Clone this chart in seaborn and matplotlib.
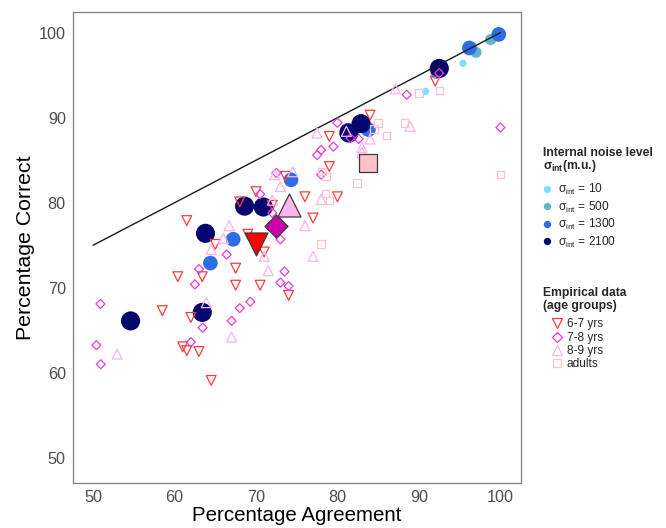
import numpy as np
import pandas as pd
import matplotlib
matplotlib.use('Agg')
import matplotlib.pyplot as plt
import seaborn as sns
from matplotlib.lines import Line2D

# model simulations, one list pair per internal noise level
noise_levels = ['10', '500', '1300', '2100']
noise_colors = ['#7FDFFF', '#62B5C9', '#2C6EE6', '#05056F']
noise_sizes = [28, 65, 112, 190]

sig10_agree = [90.8, 95.4]
sig10_correct = [93.1, 96.4]
sig500_agree = [92.1, 97.0, 98.8]
sig500_correct = [95.2, 97.7, 99.2]
sig1300_agree = [64.4, 67.2, 74.3, 81.2, 83.8, 96.2, 99.8]
sig1300_correct = [72.9, 75.7, 82.7, 88.5, 88.6, 98.2, 99.8]
sig2100_agree = [54.6, 63.4, 63.8, 68.6, 70.9, 81.4, 82.9, 92.5]
sig2100_correct = [66.1, 67.1, 76.4, 79.6, 79.5, 88.2, 89.3, 95.8]

# empirical data per age group
age_groups = ['6-7 yrs', '7-8 yrs', '8-9 yrs', 'adults']
age_colors = ['#FF3B3B', '#EE3ADB', '#FFB0EF', '#FFC2CA']
age_fill = ['#FF0000', '#CC00AA', '#FFB6EE', '#FFC0C8']
age_markers = ['v', 'D', '^', 's']
age_sizes = [50, 21, 52, 29]
mean_sizes = [275, 137, 275, 150]

kids67_agree = [58.5, 60.4, 61.0, 61.5, 61.5, 62.0, 63.0, 63.4, 64.5, 65.0, 67.5, 67.5,
                68.0, 69.0, 70.0, 70.5, 71.0, 72.0, 73.6, 74.0, 76.0, 77.0, 79.0, 79.0,
                80.0, 84.0, 92.0]
kids67_correct = [67.3, 71.3, 63.05, 62.6, 77.9, 66.5, 62.5, 71.3, 59.1, 75.1, 72.3, 70.3,
                  80.1, 76.3, 81.3, 70.3, 74.2, 79.7, 83.1, 69.1, 80.7, 78.2, 84.25, 87.8,
                  80.7, 90.3, 94.3]
kids78_agree = [50.4, 50.9, 50.95, 62.0, 62.5, 63.0, 63.45, 66.4, 67.0, 68.0, 69.3, 70.5,
                72.0, 72.5, 73.0, 73.0, 73.5, 74.0, 77.5, 78.0, 78.0, 79.5, 80.0, 81.6,
                82.6, 88.5, 92.5, 100.0]
kids78_correct = [63.25, 68.1, 61.0, 63.6, 70.4, 72.2, 65.3, 73.9, 66.1, 67.6, 68.35, 81.0,
                  78.8, 83.5, 75.7, 70.6, 71.9, 70.2, 85.6, 83.3, 86.2, 86.6, 89.4, 87.6,
                  87.5, 92.7, 95.25, 88.85]
kids89_agree = [52.95, 63.9, 64.5, 66.0, 66.7, 67.0, 71.0, 71.5, 72.0, 72.3, 73.0, 74.5,
                76.0, 77.0, 77.5, 78.0, 81.1, 83.0, 83.0, 84.0, 87.1, 88.9]
kids89_correct = [62.2, 68.25, 74.5, 75.8, 77.3, 64.2, 73.7, 72.0, 80.3, 83.3, 81.9, 83.65,
                  77.3, 73.7, 88.2, 80.4, 88.4, 86.5, 85.9, 87.5, 93.4, 89.0]
adults_agree = [78.0, 78.1, 78.6, 78.5, 79.0, 82.4, 84.5, 85.0, 86.0, 88.2, 90.0, 92.5, 100.0]
adults_correct = [75.15, 83.7, 83.1, 81.1, 80.25, 82.3, 88.65, 89.4, 87.9, 89.4, 92.9, 93.2, 83.3]

# group means
mean_agree = [70.0, 72.5, 74.0, 83.8]
mean_correct = [75.1, 77.3, 79.7, 84.7]

# reference line
line_x = [50, 100]
line_y = [75, 100]

model = pd.concat([
    pd.DataFrame({'agree': a, 'correct': c, 'sigma': lv})
    for a, c, lv in zip([sig10_agree, sig500_agree, sig1300_agree, sig2100_agree],
                        [sig10_correct, sig500_correct, sig1300_correct, sig2100_correct],
                        noise_levels)
], ignore_index=True)

emp = pd.concat([
    pd.DataFrame({'agree': a, 'correct': c, 'group': g})
    for a, c, g in zip([kids67_agree, kids78_agree, kids89_agree, adults_agree],
                       [kids67_correct, kids78_correct, kids89_correct, adults_correct],
                       age_groups)
], ignore_index=True)

means = pd.DataFrame({'agree': mean_agree, 'correct': mean_correct, 'group': age_groups})

sns.set_style('white')
plt.rcParams['font.family'] = ['Liberation Sans', 'DejaVu Sans']
plt.rcParams['mathtext.fontset'] = 'custom'
plt.rcParams['mathtext.rm'] = 'Liberation Sans'
plt.rcParams['mathtext.bf'] = 'Liberation Sans:bold'

fig = plt.figure(figsize=(6.66, 5.28), dpi=100)
ax = fig.add_axes([0.1092, 0.0847, 0.6727, 0.8920])

sns.scatterplot(data=model, x='agree', y='correct', hue='sigma', size='sigma',
                hue_order=noise_levels, size_order=noise_levels,
                palette=dict(zip(noise_levels, noise_colors)),
                sizes=dict(zip(noise_levels, noise_sizes)),
                linewidth=0, legend=False, ax=ax, zorder=2)

ax.plot(line_x, line_y, color='#1a1a1a', lw=1.0, zorder=3)

for g, col, mk, sz in zip(age_groups, age_colors, age_markers, age_sizes):
    sub = emp[emp['group'] == g]
    sns.scatterplot(data=sub, x='agree', y='correct', marker=mk, s=sz,
                    facecolor='none', edgecolor=col, linewidth=0.9,
                    legend=False, ax=ax, zorder=4)

for i, g in enumerate(age_groups):
    sub = means[means['group'] == g]
    sns.scatterplot(data=sub, x='agree', y='correct', marker=age_markers[i],
                    s=mean_sizes[i], color=age_fill[i], edgecolor='#3a3a3a',
                    linewidth=0.9, legend=False, ax=ax, zorder=5)

ax.set_xlim(47.5, 102.5)
ax.set_ylim(47.0, 102.4)
ax.set_xticks([50, 60, 70, 80, 90, 100])
ax.set_yticks([50, 60, 70, 80, 90, 100])
for sp in ax.spines.values():
    sp.set_visible(True)
    sp.set_color('#808080')
    sp.set_linewidth(0.9)
ax.tick_params(direction='out', length=3, width=0.9, color='#808080',
               labelcolor='#4D4D4D', labelsize=11.7, pad=2)
ax.set_xlabel('Percentage Agreement', fontsize=14.8, color='black')
ax.set_ylabel('Percentage Correct', fontsize=15.3, color='black')
ax.xaxis.set_label_coords(0.5, -0.048)
ax.yaxis.set_label_coords(-0.084, 0.5)

# legend for model noise levels
fig.text(542.7 / 666, 1 - 156 / 528, 'Internal noise level', fontsize=8.75,
         fontweight='bold', va='baseline', ha='left')
fig.text(542.7 / 666, 1 - 168.8 / 528, 'σ$_{\\mathbf{int}}$(m.u.)', fontsize=8.75,
         fontweight='bold', va='baseline', ha='left')
h1 = [Line2D([], [], marker='o', linestyle='', markersize=5.3,
             markerfacecolor=c, markeredgecolor='none') for c in noise_colors]
l1 = ['σ$_{\\rm int}$ = ' + lv for lv in noise_levels]
leg1 = fig.legend(h1, l1, loc='upper left', bbox_to_anchor=(541 / 666, 1 - 182.0 / 528),
                  frameon=False, borderpad=0, borderaxespad=0, handlelength=1.0,
                  handletextpad=0.44, labelspacing=0.2, fontsize=8.6)

# legend for empirical age groups
fig.text(542.7 / 666, 1 - 296 / 528, 'Empirical data', fontsize=8.75,
         fontweight='bold', va='baseline', ha='left')
fig.text(542.7 / 666, 1 - 309.5 / 528, '(age groups)', fontsize=8.75,
         fontweight='bold', va='baseline', ha='left')
h2 = [Line2D([], [], marker=mk, linestyle='', markersize=ms,
             markerfacecolor='none', markeredgecolor=c, markeredgewidth=0.9)
      for mk, c, ms in zip(age_markers, age_colors, [6.5, 4.6, 6.5, 5.2])]
leg2 = fig.legend(h2, age_groups, loc='upper left', bbox_to_anchor=(550.8 / 666, 1 - 318.5 / 528),
                  frameon=False, borderpad=0, borderaxespad=0, handlelength=1.0,
                  handletextpad=0.35, labelspacing=0.11, fontsize=8.6)

fig.savefig('out.png', dpi=100)
